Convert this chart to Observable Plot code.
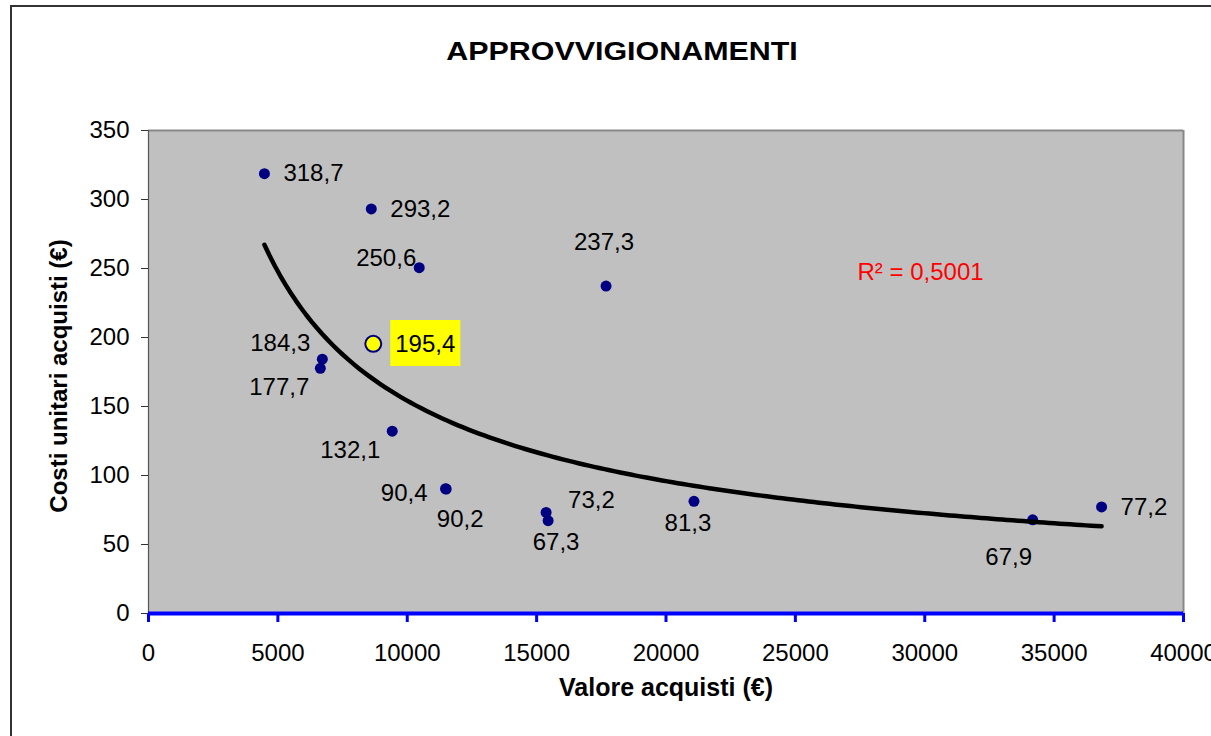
<!DOCTYPE html>
<html>
<head>
<meta charset="utf-8">
<script src="https://cdn.jsdelivr.net/npm/d3@7"></script>
<script src="https://cdn.jsdelivr.net/npm/@observablehq/plot@0.6"></script>
<style>
  html, body { margin: 0; padding: 0; background: #fff; }
  #wrap { position: relative; width: 1211px; height: 736px; overflow: hidden; font-family: "Liberation Sans", Arial, sans-serif; }
  #border { position: absolute; left: 10px; top: 5px; right: -5px; bottom: -5px; border-left: 2px solid #333; border-top: 2px solid #333; }
  #title { position: absolute; left: 0; width: 1244px; top: 36px; text-align: center; font-weight: bold; font-size: 26px; color: #000; transform: scaleX(1.17); transform-origin: 622px 0; white-space: nowrap; }
  #chart { position: absolute; left: 0; top: 0; }
</style>
</head>
<body>
<div id="wrap">
  <div id="border"></div>
  <div id="chart"></div>
  <div id="title">APPROVVIGIONAMENTI</div>
</div>
<script>
// ---- data ----
const valoreAcquisti = [4480, 8610, 10463, 17683, 8687, 6718, 6641, 9420, 11480, 11506, 15367, 15444, 21081, 34170, 36834];
const costiUnitari   = [318.7, 293.2, 250.6, 237.3, 195.4, 184.3, 177.7, 132.1, 90.4, 90.2, 73.2, 67.3, 81.3, 67.9, 77.2];
const evidenziato    = [false, false, false, false, true, false, false, false, false, false, false, false, false, false, false];
const xTicks = [0, 5000, 10000, 15000, 20000, 25000, 30000, 35000, 40000];
const yTicks = [0, 50, 100, 150, 200, 250, 300, 350];
const titolo = "APPROVVIGIONAMENTI";
const xTitolo = "Valore acquisti (€)";
const yTitolo = "Costi unitari acquisti (€)";
const r2Testo = "R² = 0,5001";

// label placement per point: [dx, dy, textAnchor]
const labelPlacement = [
  [19, 0, "start"], [19, 0, "start"], [-3, -9, "end"], [-2, -44, "middle"],
  [22, 0, "start"], [-12, -16, "end"], [-11, 19, "end"], [-12, 19, "end"],
  [-18, 5, "end"], [14, 30, "middle"], [22, -12, "start"], [8, 22, "middle"],
  [-6, 22, "middle"], [-24, 38, "middle"], [19, 0, "start"]
];

const fmt = v => v.toFixed(1).replace(".", ",");
const points = valoreAcquisti.map((x, i) => ({x, y: costiUnitari[i], label: fmt(costiUnitari[i]), hi: evidenziato[i]}));

// power trendline (least squares on logs), like Excel's power trend
const lx = valoreAcquisti.map(Math.log), ly = costiUnitari.map(Math.log);
const mx = d3.mean(lx), my = d3.mean(ly);
const b = d3.sum(lx, (v, i) => (v - mx) * (ly[i] - my)) / d3.sum(lx, v => (v - mx) ** 2);
const a = Math.exp(my - b * mx);
const [xmin, xmax] = d3.extent(valoreAcquisti);
const trend = d3.range(0, 161).map(k => {
  const x = xmin + (xmax - xmin) * k / 160;
  return {x, y: a * Math.pow(x, b)};
});

const labelMarks = points.map((p, i) => Plot.text([p], {
  x: "x", y: "y", text: "label",
  dx: labelPlacement[i][0], dy: labelPlacement[i][1], textAnchor: labelPlacement[i][2],
  fontSize: 24, fill: "#000"
}));

const chart = Plot.plot({
  width: 1211, height: 736,
  marginLeft: 148, marginRight: 28, marginTop: 130, marginBottom: 123,
  style: {fontFamily: "Liberation Sans, Arial, sans-serif", background: "transparent", overflow: "visible"},
  x: {domain: [0, 40000]},
  y: {domain: [0, 350]},
  marks: [
    Plot.frame({fill: "#C0C0C0"}),
    Plot.ruleY([350], {stroke: "#888", strokeWidth: 2}),
    Plot.ruleX([40000], {stroke: "#888", strokeWidth: 2}),
    Plot.ruleX([0], {stroke: "#555", strokeWidth: 1.2}),
    Plot.dot(points.filter(d => !d.hi), {x: "x", y: "y", r: 5.5, fill: "#000080", stroke: "none"}),
    Plot.dot(points.filter(d => d.hi), {x: "x", y: "y", r: 8, fill: "#FFFF00", stroke: "#000080", strokeWidth: 2}),
    Plot.line(trend, {x: "x", y: "y", stroke: "#000", strokeWidth: 4.5}),
    Plot.ruleY([0], {stroke: "#0000FF", strokeWidth: 4}),
    ...labelMarks,
    Plot.text([r2Testo], {frameAnchor: "top-right", dx: -326, dy: 132, textAnchor: "start", fill: "#FF0000", fontSize: 24}),
    Plot.axisX({ticks: xTicks, tickSize: 9, tickPadding: 21, stroke: "#0000FF", strokeWidth: 3, fill: "#000", fontSize: 24, tickFormat: d => String(d), label: null}),
    Plot.axisY({ticks: yTicks, tickSize: 7, tickPadding: 12, stroke: "#333", strokeWidth: 1, fill: "#000", fontSize: 24, tickFormat: d => String(d), label: null}),
    Plot.text([xTitolo], {frameAnchor: "bottom", dy: 82, textAnchor: "middle", fontWeight: "bold", fontSize: 25, fill: "#000"}),
    Plot.text([yTitolo], {frameAnchor: "left", dx: -89, dy: 4, rotate: -90, textAnchor: "middle", fontWeight: "bold", fontSize: 24, fill: "#000"})
  ]
});
document.getElementById("chart").appendChild(chart);
document.getElementById("title").textContent = titolo;

// yellow box behind the highlighted label
const hiLabels = points.filter(d => d.hi).map(d => d.label);
chart.querySelectorAll("text").forEach(t => {
  if (hiLabels.includes(t.textContent) && t.closest("g[aria-label='text']")) {
    const bb = t.getBBox();
    const r = document.createElementNS("http://www.w3.org/2000/svg", "rect");
    r.setAttribute("x", bb.x - 5);
    r.setAttribute("y", bb.y + bb.height / 2 - 23);
    r.setAttribute("width", bb.width + 10);
    r.setAttribute("height", 46);
    r.setAttribute("fill", "#FFFF00");
    if (t.getAttribute("transform")) r.setAttribute("transform", t.getAttribute("transform"));
    t.parentNode.insertBefore(r, t);
  }
});
</script>
</body>
</html>
